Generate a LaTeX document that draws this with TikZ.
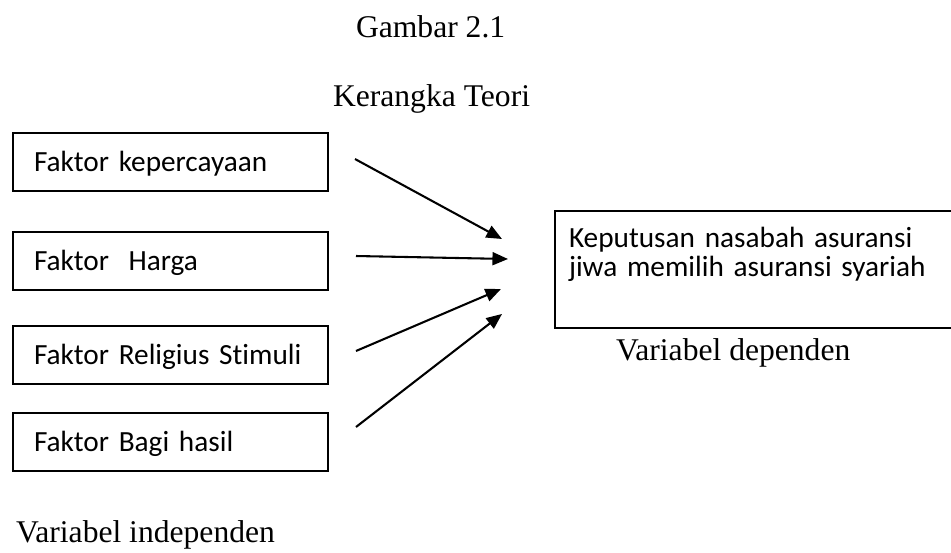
\documentclass[tikz,border=0pt]{standalone}
\usepackage{fontspec}
\setmainfont{Liberation Serif}
\newfontfamily\boxfont[Ligatures=NoCommon]{Carlito}
\usetikzlibrary{arrows.meta,positioning}

\begin{document}
\begin{tikzpicture}[x=0.386pt, y=-0.386pt,
    >={Triangle[length=6pt,width=5pt]},
    line width=0.8pt,
    title/.style={inner sep=0pt, anchor=base west, font=\fontsize{12.2}{14}\selectfont},
    factor/.style={draw, anchor=north west, inner ysep=0pt, inner xsep=8.1pt,
      text width=105.4pt, text height=15pt, text depth=7.4pt, align=left,
      font=\boxfont\fontsize{11.3}{11.3}\selectfont},
    result/.style={draw, anchor=north west, inner ysep=0pt, inner xsep=5.4pt,
      text width=152pt, text height=14pt, text depth=31.2pt, align=left,
      font=\boxfont\fontsize{11.3}{11.4}\selectfont}]
  \clip (0,0) rectangle (951,552);
  % judul
  \node[title] (G) at (355, 37) {Gambar 2.1};
  \node[title] (KT) at (332, 106) {Kerangka Teori};
  % variabel independen
  \node[factor] (F1) at (12, 132) {Faktor kepercayaan};
  \node[factor] (F2) at (12, 231) {Faktor\ \ Harga};
  \node[factor] (F3) at (12, 325) {Faktor Religius Stimuli};
  \node[factor] (F4) at (12, 412) {Faktor Bagi hasil};
  % variabel dependen
  \node[result] (Y) at (554, 210) {Keputusan nasabah asuransi\\jiwa memilih asuransi syariah};
  \node[title] (VD) at (615, 360) {Variabel dependen};
  \node[title] (VI) at (15, 542) {Variabel independen};
  % panah
  \coordinate (t1) at (355, 159);   \coordinate (h1) at (502, 239);
  \coordinate (t2) at (356, 256);   \coordinate (h2) at (508, 259);
  \coordinate (t3) at (356, 351);   \coordinate (h3) at (501, 289);
  \coordinate (t4) at (356, 427);   \coordinate (h4) at (502, 314);
  \draw [->] (t1) -- (h1);
  \draw [->] (t2) -- (h2);
  \draw [->] (t3) -- (h3);
  \draw [->] (t4) -- (h4);
\end{tikzpicture}
\end{document}
